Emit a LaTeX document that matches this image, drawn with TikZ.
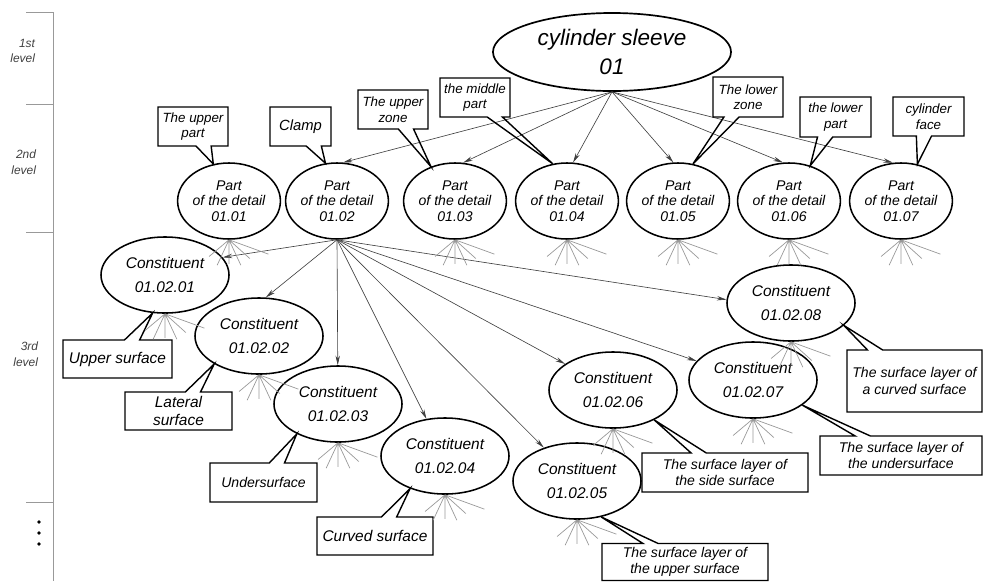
\documentclass[tikz,border=0pt]{standalone}
\usepackage{fontspec}
\setmainfont{Liberation Sans}
\usetikzlibrary{arrows.meta, shapes.geometric, shapes.callouts}

\begin{document}
\begin{tikzpicture}[x=0.025cm, y=-0.025cm,
 root/.style={ellipse, draw, line width=1.2pt, minimum width=5.95cm, minimum height=1.95cm, inner sep=0pt, align=center, font=\fontsize{16}{20}\selectfont\itshape},
 part/.style={ellipse, draw, line width=1.1pt, minimum width=2.55cm, minimum height=1.9cm, inner sep=0pt, align=center, font=\fontsize{10}{11}\selectfont\itshape},
 comp/.style={ellipse, draw, line width=1.1pt, minimum width=3.2cm, minimum height=1.9cm, inner sep=0pt, align=center, font=\fontsize{11}{17}\selectfont\itshape},
 note/.style={rectangle callout, draw, line width=1pt, align=center, inner sep=1pt, callout pointer width=0.38cm, font=\fontsize{9.5}{11}\selectfont\itshape},
 bignote/.style={note, font=\fontsize{11}{13}\selectfont\itshape},
 longnote/.style={note, font=\fontsize{10}{11.5}\selectfont\itshape},
 arr/.style={-{Stealth[length=2.4mm, width=1.1mm]}, black!75, line width=0.45pt},
 ray/.style={black!40, line width=0.5pt},
 bar/.style={black!40, line width=0.7pt},
 lvl/.style={align=right, anchor=east, font=\fontsize{8.5}{11}\selectfont\itshape, text=black!75},
 fan/.pic={\draw[ray] (0,0) -- (-140:0.65cm) (0,0) -- (-115:0.7cm) (0,0) -- (-90:0.6cm) (0,0) -- (-65:0.7cm) (0,0) -- (-42:0.7cm) (0,0) -- (-20:1.05cm);}]
\useasboundingbox (0,0) rectangle (984,581);
% level scale
\draw[bar] (26,12) -- (53,12) (26,104) -- (53,104) (26,232) -- (53,232) (26,502) -- (53,502) (53,12) -- (53,581);
\node[lvl] (lv1) at (40,51) {1st\\level};
\node[lvl] (lv2) at (41,162) {2nd\\level};
\node[lvl] (lv3) at (43,354) {3rd\\level};
\fill (39,522) circle (1.3pt) (39,533) circle (1.3pt) (39,544) circle (1.3pt);
% 1st level
\node[root] (top) at (612,52) {cylinder sleeve\\01};
% 2nd level
\node[part] (p1) at (229,201) {Part\\of the detail\\01.01};
\node[part] (p2) at (337,201) {Part\\of the detail\\01.02};
\node[part] (p3) at (455,201) {Part\\of the detail\\01.03};
\node[part] (p4) at (567,201) {Part\\of the detail\\01.04};
\node[part] (p5) at (678,201) {Part\\of the detail\\01.05};
\node[part] (p6) at (789,201) {Part\\of the detail\\01.06};
\node[part] (p7) at (901,201) {Part\\of the detail\\01.07};
\draw[arr] (top.south) -- (p2.81);
\draw[arr] (top.south) -- (p3.78);
\draw[arr] (top.south) -- (p4.81);
\draw[arr] (top.south) -- (p5.97);
\draw[arr] (top.south) -- (p6.99);
\draw[arr] (top.south) -- (p7.102);
\node[note, minimum width=1.75cm, minimum height=0.975cm, callout absolute pointer={(p1.113)}] (n1) at (193,126.5) {The upper\\part};
\node[note, font=\fontsize{10.5}{12}\selectfont\itshape, minimum width=1.525cm, minimum height=0.975cm, callout absolute pointer={(p2.107)}] (n2) at (300.5,126.5) {Clamp};
\node[note, minimum width=1.75cm, minimum height=0.975cm, callout absolute pointer={(p3.125)}] (n3) at (393,109.5) {The upper\\zone};
\node[note, minimum width=1.75cm, minimum height=0.975cm, callout absolute pointer={(p4.111)}] (n4) at (475,97.5) {the middle\\part};
\node[note, minimum width=1.75cm, minimum height=1cm, callout absolute pointer={(p5.68)}] (n5) at (748,97) {The lower\\zone};
\node[note, minimum width=1.775cm, minimum height=1cm, callout absolute pointer={(p6.59)}] (n6) at (835.5,117) {the lower\\part};
\node[note, minimum width=1.775cm, minimum height=0.975cm, callout absolute pointer={(p7.66)}] (n7) at (928.5,116.5) {cylinder\\face};
% 3rd level
\node[comp] (c1) at (165,275) {Constituent\\01.02.01};
\node[comp] (c2) at (259,336) {Constituent\\01.02.02};
\node[comp] (c3) at (338,404) {Constituent\\01.02.03};
\node[comp] (c4) at (445,456) {Constituent\\01.02.04};
\node[comp] (c5) at (577,481) {Constituent\\01.02.05};
\node[comp] (c6) at (613,390) {Constituent\\01.02.06};
\node[comp] (c7) at (753,380) {Constituent\\01.02.07};
\node[comp] (c8) at (791,303) {Constituent\\01.02.08};
\draw[arr] (p2.south) -- (c1.17);
\draw[arr] (p2.south) -- (c2.80);
\draw[arr] (p2.south) -- (c3);
\draw[arr] (p2.south) -- (c4);
\draw[arr] (p2.south) -- (c5);
\draw[arr] (p2.south) -- (c6);
\draw[arr] (p2.south) -- (c7);
\draw[arr] (p2.south) -- (c8.177);
\node[bignote, minimum width=2.725cm, minimum height=0.95cm, callout absolute pointer={(c1.252)}] (m1) at (117.5,359) {Upper surface};
\node[bignote, minimum width=2.675cm, minimum height=0.95cm, callout absolute pointer={(c2.212)}] (m2) at (178.5,411) {Lateral\\surface};
\node[longnote, minimum width=2.675cm, minimum height=0.975cm, callout absolute pointer={(c3.216)}] (m3) at (263.5,482.5) {Undersurface};
\node[bignote, minimum width=2.9cm, minimum height=0.95cm, callout absolute pointer={(c4.223)}] (m4) at (375,536) {Curved surface};
\node[longnote, minimum width=4.15cm, minimum height=0.925cm, callout absolute pointer={(c5.304)}] (m5) at (685,562) {The surface layer of\\the upper surface};
\node[longnote, minimum width=4.15cm, minimum height=0.975cm, callout absolute pointer={(c6.324)}] (m6) at (725,472.5) {The surface layer of\\the side surface};
\node[longnote, minimum width=4.05cm, minimum height=0.975cm, callout absolute pointer={(c7.333)}] (m7) at (901,455.5) {The surface layer of\\the undersurface};
\node[longnote, minimum width=3.375cm, minimum height=1.55cm, callout absolute pointer={(c8.337)}] (m8) at (914.5,381) {The surface layer of\\a curved surface};
% fans of further levels
\pic at (p1.south) {fan};
\pic at (p3.south) {fan};
\pic at (p4.south) {fan};
\pic at (p5.south) {fan};
\pic at (p6.south) {fan};
\pic at (p7.south) {fan};
\pic at (c1.south) {fan};
\pic at (c2.south) {fan};
\pic at (c3.south) {fan};
\pic at (c4.south) {fan};
\pic at (c5.south) {fan};
\pic at (c6.south) {fan};
\pic at (c7.south) {fan};
\pic at (c8.south) {fan};
\end{tikzpicture}
\end{document}
